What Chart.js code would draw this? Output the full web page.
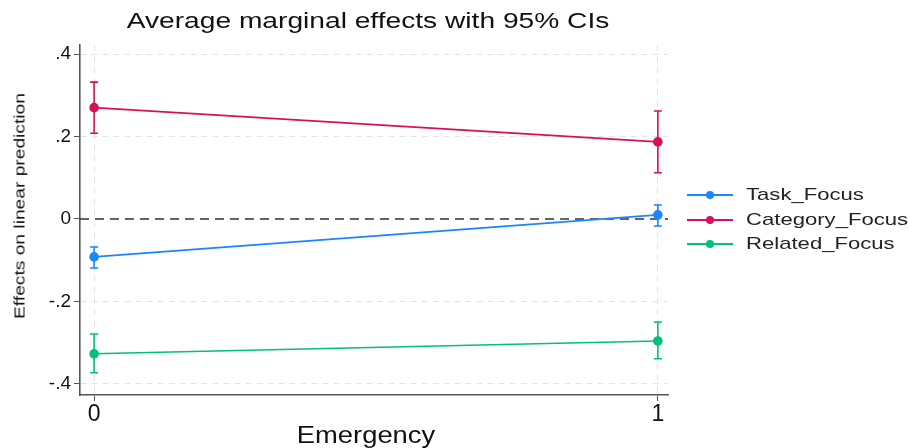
<!DOCTYPE html>
<html>
<head>
<meta charset="utf-8">
<script src="https://cdn.jsdelivr.net/npm/chart.js@4.4.1/dist/chart.umd.min.js"></script>
<style>
  html, body { margin: 0; padding: 0; background: #fff; }
  #wrap { position: relative; width: 909px; height: 448px; font-family: "Liberation Sans", Arial, sans-serif; color: #111; }
  .txt { position: absolute; white-space: nowrap; line-height: 1; }
  #title { left: 368px; top: 10px; font-size: 22px; transform: translateX(-50%) scaleX(1.28); }
  #xTitle { left: 366px; top: 424px; font-size: 23px; transform: translateX(-50%) scaleX(1.19); }
  #yTitle { left: 19px; top: 206px; font-size: 15px; transform: translate(-50%, -50%) rotate(-90deg) scaleX(1.28); }
  #legend { position: absolute; left: 687px; top: 183px; font-size: 17px; color: #222; }
  .item { display: flex; align-items: center; height: 24.5px; }
  .sample { position: relative; width: 46px; height: 2px; margin-right: 13px; flex: none; }
  .sample i { position: absolute; left: 19px; top: -3px; width: 8px; height: 8px; border-radius: 50%; }
  .name { display: inline-block; transform: scaleX(1.3); transform-origin: left center; }
</style>
</head>
<body>
<div id="wrap">
  <canvas id="marginsChart" width="909" height="448"></canvas>
  <div class="txt" id="title">Average marginal effects with 95% CIs</div>
  <div class="txt" id="xTitle">Emergency</div>
  <div class="txt" id="yTitle">Effects on linear prediction</div>
  <div id="legend"></div>
</div>
<script>
const emergency = [0, 1]
const seriesNames = ['Task_Focus', 'Category_Focus', 'Related_Focus']
const seriesColors = ['#1a85ff', '#d41159', '#00bf7f']

const taskFocus = [-0.092, 0.010]
const taskLow = [-0.119, -0.017]
const taskHigh = [-0.068, 0.034]

const categoryFocus = [0.270, 0.187]
const categoryLow = [0.208, 0.112]
const categoryHigh = [0.332, 0.262]

const relatedFocus = [-0.327, -0.296]
const relatedLow = [-0.373, -0.339]
const relatedHigh = [-0.279, -0.250]

const yTicks = [-0.4, -0.2, 0, 0.2, 0.4]
const yTickLabels = ['-.4', '-.2', '0', '.2', '.4']
const xTicks = [0, 1]

const values = [taskFocus, categoryFocus, relatedFocus]
const lows = [taskLow, categoryLow, relatedLow]
const highs = [taskHigh, categoryHigh, relatedHigh]

const font = '"Liberation Sans", Arial, sans-serif'

// vertical CI bars with caps, drawn under the points
const errorBars = {
  id: 'errorBars',
  beforeDatasetsDraw (chart) {
    const { ctx, scales: { x, y } } = chart
    ctx.save()
    ctx.lineWidth = 1.6
    values.forEach((vals, s) => {
      ctx.strokeStyle = seriesColors[s]
      emergency.forEach((e, i) => {
        const px = x.getPixelForValue(e)
        const top = y.getPixelForValue(highs[s][i])
        const bottom = y.getPixelForValue(lows[s][i])
        ctx.beginPath()
        ctx.moveTo(px, top)
        ctx.lineTo(px, bottom)
        ctx.moveTo(px - 4, top)
        ctx.lineTo(px + 4, top)
        ctx.moveTo(px - 4, bottom)
        ctx.lineTo(px + 4, bottom)
        ctx.stroke()
      })
    })
    ctx.restore()
  }
}

// dashed reference line at zero
const zeroLine = {
  id: 'zeroLine',
  beforeDatasetsDraw (chart) {
    const { ctx, chartArea, scales: { y } } = chart
    const py = y.getPixelForValue(0)
    ctx.save()
    ctx.strokeStyle = '#333'
    ctx.lineWidth = 1.6
    ctx.setLineDash([9, 6])
    ctx.beginPath()
    ctx.moveTo(chartArea.left, py)
    ctx.lineTo(chartArea.right, py)
    ctx.stroke()
    ctx.restore()
  }
}

const datasets = values.map((vals, s) => ({
  label: seriesNames[s],
  data: emergency.map((e, i) => ({ x: e, y: vals[i] })),
  showLine: true,
  borderColor: seriesColors[s],
  backgroundColor: seriesColors[s],
  borderWidth: 1.6,
  pointRadius: 4,
  pointHoverRadius: 4
}))

new Chart(document.getElementById('marginsChart'), {
  type: 'scatter',
  data: { datasets },
  plugins: [zeroLine, errorBars],
  options: {
    responsive: false,
    animation: false,
    layout: { padding: { left: 0, right: 241, top: 45, bottom: 0 } },
    plugins: {
      legend: { display: false },
      tooltip: { enabled: false }
    },
    scales: {
      x: {
        type: 'linear',
        min: -0.025,
        max: 1.018,
        afterBuildTicks: (scale) => { scale.ticks = xTicks.map(v => ({ value: v })) },
        afterFit: (scale) => { scale.height = 53 },
        ticks: { color: '#111', font: { family: font, size: 23 }, padding: 0 },
        grid: { color: '#e4e4e4', lineWidth: 1, tickColor: '#555', tickLength: 6 },
        border: { color: '#555', width: 1.6, dash: [6, 5] }
      },
      y: {
        min: -0.427,
        max: 0.422,
        afterBuildTicks: (scale) => { scale.ticks = yTicks.map(v => ({ value: v })) },
        afterFit: (scale) => { scale.width = 80 },
        ticks: {
          color: '#111',
          font: { family: font, size: 19 },
          padding: 3,
          callback: (value) => yTickLabels[yTicks.indexOf(value)]
        },
        grid: {
          color: (ctx) => ctx.tick && ctx.tick.value === 0 ? 'rgba(0,0,0,0)' : '#e4e4e4',
          lineWidth: 1,
          tickColor: '#555',
          tickLength: 6
        },
        border: { color: '#555', width: 1.6, dash: [6, 5] }
      }
    }
  }
})

const legend = document.getElementById('legend')
seriesNames.forEach((name, s) => {
  const item = document.createElement('div')
  item.className = 'item'
  item.innerHTML = `<span class="sample" style="background:${seriesColors[s]}"><i style="background:${seriesColors[s]}"></i></span><span class="name">${name}</span>`
  legend.appendChild(item)
})
</script>
</body>
</html>
